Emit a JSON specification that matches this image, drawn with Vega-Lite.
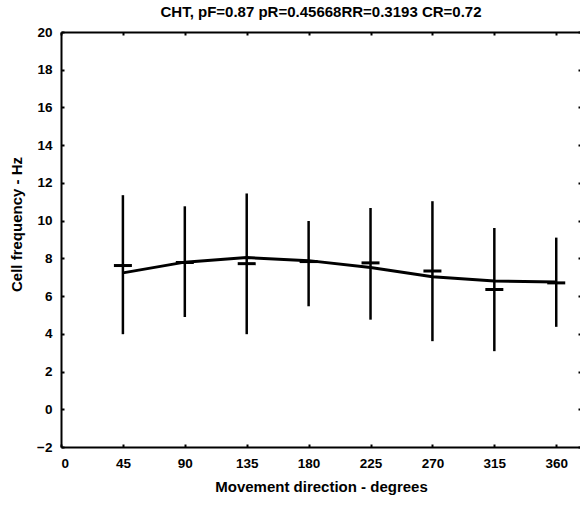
{
  "$schema": "https://vega.github.io/schema/vega-lite/v6.json",
  "autosize": "none",
  "width": 520,
  "height": 415,
  "padding": {"left": 61, "top": 32, "right": 0, "bottom": 58},
  "background": "white",
  "config": {
    "view": {"stroke": null},
    "font": "Liberation Sans",
    "axis": {
      "labelFont": "Liberation Sans", "labelFontWeight": "bold", "labelFontSize": 13.5, "labelColor": "black",
      "titleFont": "Liberation Sans", "titleFontWeight": "bold", "titleFontSize": 15, "titleColor": "black",
      "domainColor": "black", "domainWidth": 2, "tickColor": "black", "tickWidth": 2, "grid": false
    }
  },
  "title": {"text": "CHT, pF=0.87 pR=0.45668RR=0.3193 CR=0.72", "font": "Liberation Sans", "fontSize": 15, "fontWeight": "bold", "color": "black", "offset": 5, "anchor": "middle"},
  "data": {"values": [
    {"dir": 45, "mean": 7.62, "lo": 3.98, "hi": 11.35, "fit": 7.23},
    {"dir": 90, "mean": 7.78, "lo": 4.89, "hi": 10.76, "fit": 7.8},
    {"dir": 135, "mean": 7.72, "lo": 3.98, "hi": 11.44, "fit": 8.04},
    {"dir": 180, "mean": 7.83, "lo": 5.46, "hi": 9.98, "fit": 7.88},
    {"dir": 225, "mean": 7.76, "lo": 4.75, "hi": 10.67, "fit": 7.51},
    {"dir": 270, "mean": 7.33, "lo": 3.61, "hi": 11.03, "fit": 7.02},
    {"dir": 315, "mean": 6.35, "lo": 3.08, "hi": 9.61, "fit": 6.8},
    {"dir": 360, "mean": 6.7, "lo": 4.37, "hi": 9.1, "fit": 6.75}
  ]},
  "layer": [
    {
      "mark": {"type": "rule", "color": "black", "strokeWidth": 2.5},
      "encoding": {
        "x": {"field": "dir", "type": "quantitative", "scale": {"domain": [0, 378], "nice": false, "zero": false},
              "axis": {"orient": "bottom", "values": [0,45,90,135,180,225,270,315,360], "title": "Movement direction - degrees", "tickSize": -3, "labelPadding": 12, "titlePadding": 10}},
        "y": {"field": "lo", "type": "quantitative", "scale": {"domain": [-2, 20], "nice": false, "zero": false},
              "axis": {"orient": "left", "values": [-2,0,2,4,6,8,10,12,14,16,18,20], "title": "Cell frequency - Hz", "tickSize": -3, "labelPadding": 12, "titlePadding": 12, "titleY": 192}},
        "y2": {"field": "hi"}
      }
    },
    {
      "mark": {"type": "tick", "orient": "horizontal", "color": "black", "opacity": 1, "size": 18, "thickness": 3},
      "encoding": {
        "x": {"field": "dir", "type": "quantitative", "axis": {"orient": "top", "values": [0,45,90,135,180,225,270,315,360], "labels": false, "title": null, "tickSize": -3}},
        "y": {"field": "mean", "type": "quantitative", "axis": {"orient": "right", "values": [-2,0,2,4,6,8,10,12,14,16,18,20], "labels": false, "title": null, "domain": false, "tickSize": -3}}
      }
    },
    {
      "mark": {"type": "line", "color": "black", "strokeWidth": 3},
      "encoding": {
        "x": {"field": "dir", "type": "quantitative", "axis": null},
        "y": {"field": "fit", "type": "quantitative", "axis": null}
      }
    }
  ]
}
